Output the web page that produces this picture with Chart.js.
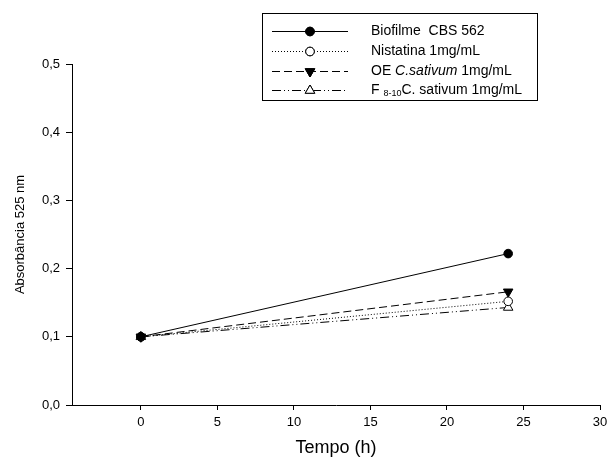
<!DOCTYPE html>
<html>
<head>
<meta charset="utf-8">
<script src="https://cdn.jsdelivr.net/npm/chart.js@4/dist/chart.umd.min.js"></script>
<style>
  html, body { margin: 0; padding: 0; background: #fff; }
  #wrap { width: 608px; height: 463px; }
</style>
</head>
<body>
<div id="wrap"><canvas id="chart" width="608" height="463"></canvas></div>
<script>
const times = [0, 24];
const seriesNames = ['Biofilme  CBS 562', 'Nistatina 1mg/mL', 'OE C.sativum 1mg/mL', 'F 8-10 C. sativum 1mg/mL'];
const biofilme = [0.100, 0.222];
const nistatina = [0.100, 0.152];
const oeSativum = [0.100, 0.166];
const fSativum = [0.100, 0.143];
const xTicks = [0, 5, 10, 15, 20, 25, 30];
const yTicks = [0, 0.1, 0.2, 0.3, 0.4, 0.5];

const FONT = 'Liberation Sans, Arial, sans-serif';

function pts(vals) {
    return times.map((t, i) => ({ x: t, y: vals[i] }));
}

const ctx = document.getElementById('chart').getContext('2d');

const datasets = [
    { label: seriesNames[0], data: pts(biofilme), borderDash: [], pointStyle: 'circle', rotation: 0, pointRadius: 4.3, pointBackgroundColor: '#000' },
    { label: seriesNames[1], data: pts(nistatina), borderDash: [1, 2], pointStyle: 'circle', rotation: 0, pointRadius: 4.3, pointBackgroundColor: '#fff' },
    { label: seriesNames[2], data: pts(oeSativum), borderDash: [8, 4], pointStyle: 'triangle', rotation: 180, pointRadius: 5.5, pointBackgroundColor: '#000' },
    { label: seriesNames[3], data: pts(fSativum), borderDash: [9, 3, 1, 3, 1, 3], pointStyle: 'triangle', rotation: 0, pointRadius: 5.5, pointBackgroundColor: '#fff' }
].map(d => Object.assign({
    borderColor: '#000',
    borderWidth: 1,
    pointBorderColor: '#000',
    pointBorderWidth: 1,
    fill: false,
    tension: 0
}, d));

// custom legend box like the SigmaPlot one
const boxLegend = {
    id: 'boxLegend',
    afterDraw(chart) {
        const c = chart.ctx;
        c.save();
        c.strokeStyle = '#000';
        c.lineWidth = 1;
        c.strokeRect(262.5, 13.5, 275, 87);
        const rows = [31, 51, 71, 90];
        chart.data.datasets.forEach((ds, i) => {
            const y = rows[i] + 0.5;
            c.setLineDash(ds.borderDash);
            c.beginPath();
            c.moveTo(272, y);
            c.lineTo(348, y);
            c.stroke();
            c.setLineDash([]);
            c.fillStyle = ds.pointBackgroundColor;
            Chart.helpers.drawPoint(c, { pointStyle: ds.pointStyle, rotation: ds.rotation, radius: ds.pointRadius, borderWidth: 1 }, 310, y);
            c.fill();
            c.stroke();
        });
        c.fillStyle = '#000';
        c.textBaseline = 'middle';
        const f = '14px ' + FONT;
        c.font = f;
        c.fillText('Biofilme  CBS 562', 371, rows[0]);
        c.fillText('Nistatina 1mg/mL', 371, rows[1]);
        let x = 371;
        c.fillText('OE ', x, rows[2]); x += c.measureText('OE ').width;
        c.font = 'italic ' + f;
        c.fillText('C.sativum', x, rows[2]); x += c.measureText('C.sativum').width;
        c.font = f;
        c.fillText(' 1mg/mL', x, rows[2]);
        x = 371;
        c.fillText('F ', x, rows[3]); x += c.measureText('F ').width;
        c.font = '9px ' + FONT;
        c.fillText('8-10', x, rows[3] + 4); x += c.measureText('8-10').width;
        c.font = f;
        c.fillText('C. sativum 1mg/mL', x, rows[3]);
        c.restore();
    }
};

new Chart(ctx, {
    type: 'line',
    data: { datasets: datasets },
    plugins: [boxLegend],
    options: {
        responsive: false,
        animation: false,
        layout: { padding: { top: 64, right: 8, left: 0, bottom: 0 } },
        plugins: { legend: { display: false }, tooltip: { enabled: false } },
        scales: {
            x: {
                type: 'linear',
                min: -4.5,
                max: 30,
                afterBuildTicks: s => { s.ticks = xTicks.map(v => ({ value: v })); },
                afterFit: s => { s.height = 58; s.paddingLeft = 0; s.paddingRight = 0; },
                grid: { drawOnChartArea: false, drawTicks: true, tickLength: 5, color: '#000' },
                border: { display: true, color: '#000', width: 1 },
                ticks: { color: '#000', font: { family: FONT, size: 13 }, padding: 5, maxRotation: 0 },
                title: { display: true, text: 'Tempo (h)', color: '#000', font: { family: FONT, size: 18 }, padding: { top: 0 } }
            },
            y: {
                type: 'linear',
                min: 0,
                max: 0.5,
                afterBuildTicks: s => { s.ticks = yTicks.map(v => ({ value: v })); },
                afterFit: s => { s.width = 72; s.paddingTop = 0; s.paddingBottom = 0; },
                grid: { drawOnChartArea: false, drawTicks: true, tickLength: 6, color: '#000' },
                border: { display: true, color: '#000', width: 1 },
                ticks: { color: '#000', font: { family: FONT, size: 13 }, padding: 6, callback: v => v.toFixed(1).replace('.', ',') },
                title: { display: true, text: 'Absorbância 525 nm', color: '#000', font: { family: FONT, size: 13 }, padding: { top: 13, bottom: 0 } }
            }
        }
    }
});
</script>
</body>
</html>
